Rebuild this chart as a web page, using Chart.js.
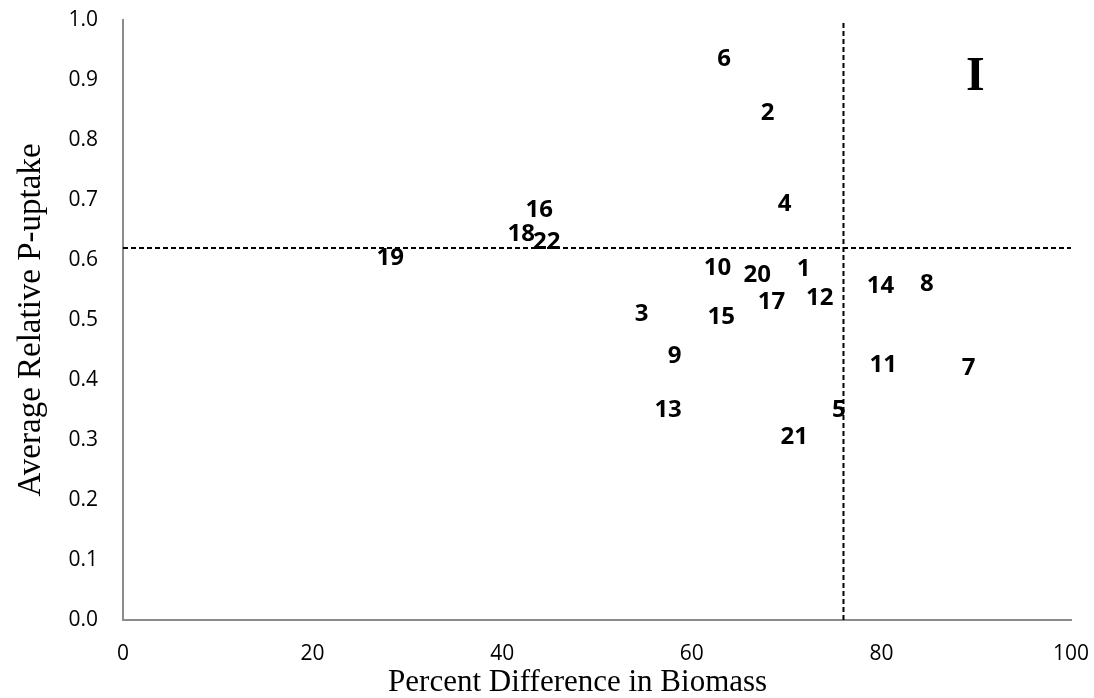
<!DOCTYPE html>
<html>
<head>
<meta charset="utf-8">
<script src="https://cdn.jsdelivr.net/npm/chart.js@4/dist/chart.umd.min.js"></script>
<style>
  html, body { margin: 0; padding: 0; background: #ffffff; }
  #wrap { width: 1094px; height: 698px; }
</style>
</head>
<body>
<div id="wrap"><canvas id="chart" width="1094" height="698"></canvas></div>
<script>
// Genotype numbers and their position on the biomass / P-uptake plane
const genotypes   = ['1','2','3','4','5','6','7','8','9','10','11','12','13','14','15','16','17','18','19','20','21','22'];
const biomassDiff = [71.8, 68.0, 54.7, 69.8, 75.5, 63.4, 89.2, 84.8, 58.2, 62.7, 80.2, 73.5, 57.5, 79.9, 63.1, 43.9, 68.4, 42.0, 28.2, 66.9, 70.8, 44.7];
const relPUptake  = [0.588, 0.848, 0.512, 0.696, 0.353, 0.938, 0.422, 0.563, 0.442, 0.590, 0.428, 0.539, 0.353, 0.560, 0.508, 0.686, 0.532, 0.646, 0.606, 0.577, 0.308, 0.632];

// Quadrant split lines
const biomassCut = 76;
const uptakeCut  = 0.62;

// Axis ranges and tick steps
const xRange = [0, 100];
const yRange = [0, 1.0];
const xStep = 20;
const yStep = 0.1;

// Quadrant marker
const quadrantLabel = 'I';
const quadrantPos = { x: 89.9, y: 0.884 };

const points = genotypes.map((g, i) => ({ x: biomassDiff[i], y: relPUptake[i], label: g }));

const labelPlugin = {
  id: 'genotypeLabels',
  afterDatasetsDraw(chart) {
    const { ctx, scales: { x, y } } = chart;
    ctx.save();
    ctx.fillStyle = '#000000';
    ctx.textAlign = 'center';
    ctx.textBaseline = 'alphabetic';
    ctx.font = '700 24px "Open Sans"';
    chart.data.datasets[0].data.forEach(p => {
      const px = x.getPixelForValue(p.x);
      const py = y.getPixelForValue(p.y);
      const m = ctx.measureText(p.label);
      ctx.fillText(p.label, px, py + m.actualBoundingBoxAscent / 2);
    });
    ctx.font = '700 48px "Liberation Serif"';
    ctx.fillText(quadrantLabel, x.getPixelForValue(quadrantPos.x), y.getPixelForValue(quadrantPos.y));
    ctx.restore();
  }
};

// Fixed axis box sizes; edge tick labels may overhang the plot area
function fixBox(size, prop) {
  return scale => {
    scale[prop] = size;
    scale.paddingTop = 0;
    scale.paddingBottom = 0;
    scale.paddingLeft = 0;
    scale.paddingRight = 0;
  };
}

new Chart(document.getElementById('chart'), {
  type: 'scatter',
  data: {
    datasets: [
      {
        data: points,
        pointRadius: 0,
        pointHoverRadius: 0,
        showLine: false
      },
      {
        data: [{ x: biomassCut, y: yRange[0] }, { x: biomassCut, y: yRange[1] }],
        showLine: true,
        borderColor: '#000000',
        borderWidth: 2,
        borderDash: [5, 3],
        pointRadius: 0
      },
      {
        data: [{ x: xRange[0], y: uptakeCut }, { x: xRange[1], y: uptakeCut }],
        showLine: true,
        borderColor: '#000000',
        borderWidth: 2,
        borderDash: [5, 3],
        pointRadius: 0
      }
    ]
  },
  options: {
    responsive: false,
    animation: false,
    devicePixelRatio: 1,
    layout: { padding: { left: 0, right: 23, top: 20, bottom: 0 } },
    plugins: {
      legend: { display: false },
      tooltip: { enabled: false }
    },
    scales: {
      x: {
        type: 'linear',
        min: xRange[0],
        max: xRange[1],
        afterFit: fixBox(78, 'height'),
        grid: { display: false, drawTicks: false },
        border: { display: true, color: '#8c8c8c', width: 2 },
        ticks: {
          stepSize: xStep,
          padding: 21,
          color: '#000000',
          font: { family: 'Open Sans', size: 21 }
        },
        title: {
          display: true,
          text: 'Percent Difference in Biomass     ',
          color: '#000000',
          font: { family: 'Liberation Serif', size: 31, lineHeight: 1 },
          padding: { top: 1, bottom: 0 }
        }
      },
      y: {
        type: 'linear',
        min: yRange[0],
        max: yRange[1],
        afterFit: fixBox(123, 'width'),
        grid: { display: false, drawTicks: false },
        border: { display: true, color: '#8c8c8c', width: 2 },
        ticks: {
          stepSize: yStep,
          padding: 25,
          color: '#000000',
          font: { family: 'Open Sans', size: 21 },
          callback: v => v.toFixed(1)
        },
        title: {
          display: true,
          text: 'Average Relative P-uptake',
          color: '#000000',
          font: { family: 'Liberation Serif', size: 33, lineHeight: 1 },
          padding: { top: 15, bottom: 0 }
        }
      }
    }
  },
  plugins: [labelPlugin]
});
</script>
</body>
</html>
